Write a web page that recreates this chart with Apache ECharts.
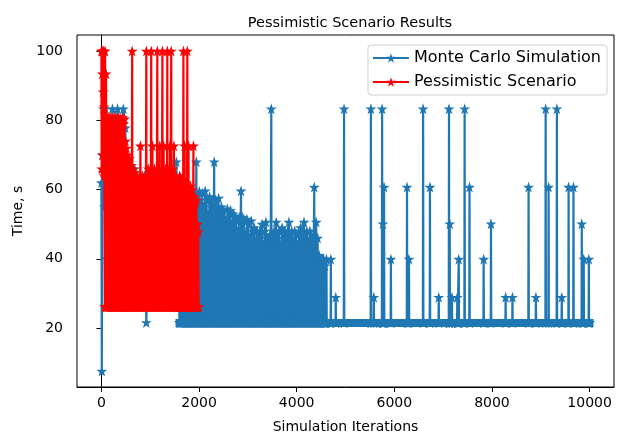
<!DOCTYPE html>
<html>
<head>
<meta charset="utf-8">
<script src="https://cdn.jsdelivr.net/npm/echarts@6/dist/echarts.min.js"></script>
<style>
  html, body { margin: 0; padding: 0; background: #fff; }
  #chart { width: 617px; height: 436px; }
</style>
</head>
<body>
<div id="chart"></div>
<script>
// axis ticks
const xTicks = [0, 2000, 4000, 6000, 8000, 10000]
const yTicks = [20, 40, 60, 80, 100]

// Monte Carlo Simulation: baseline level and [iteration, time] readings
const mcBase = 21.6
const mcEarly = [
  [0, 62], [8, 7.6], [20, 70], [40, 83.3], [60, 55], [80, 83.3], [110, 40], [150, 75],
  [190, 50], [225, 83.3], [260, 45], [300, 70], [330, 83.3], [370, 50], [410, 78],
  [450, 83.3], [490, 77.8], [530, 40], [570, 66], [620, 35], [680, 66], [740, 50],
  [780, 64], [830, 45], [880, 64], [920, 21.6], [960, 52], [1020, 40], [1080, 56],
  [1140, 35], [1200, 58], [1260, 40], [1320, 57], [1380, 45], [1440, 56], [1500, 40],
  [1535, 68], [1570, 45], [1600, 21.6],
]
const mcDense = [
  [1610, 55], [1640, 57], [1670, 52], [1700, 58], [1730, 56], [1760, 50], [1790, 58],
  [1820, 57], [1850, 54], [1880, 58], [1910, 55], [1945, 68], [1975, 57], [2005, 59.5],
  [2035, 56], [2065, 59], [2095, 55], [2125, 59.6], [2155, 57], [2185, 53], [2215, 58],
  [2245, 56], [2280, 57], [2310, 68], [2340, 57], [2370, 55], [2400, 57.5], [2430, 53],
  [2460, 55], [2490, 54], [2520, 52], [2550, 50], [2580, 54.4], [2610, 52], [2640, 54],
  [2670, 50], [2700, 53], [2730, 52.4], [2760, 51], [2790, 48], [2825, 52], [2860, 59.6],
  [2890, 52], [2920, 51.5], [2950, 47], [2980, 51.5], [3010, 50], [3040, 46], [3070, 51],
  [3100, 48], [3130, 49], [3160, 45], [3190, 48], [3220, 46], [3250, 48], [3290, 50],
  [3320, 44], [3345, 48], [3370, 50.6], [3400, 46], [3430, 44], [3455, 47], [3480, 83.3],
  [3510, 47], [3540, 48], [3580, 50.6], [3610, 46], [3640, 48], [3670, 44], [3700, 49],
  [3730, 47], [3760, 48], [3790, 46], [3815, 48], [3840, 50.6], [3870, 47], [3900, 48],
  [3930, 45], [3960, 48], [3990, 47], [4020, 44], [4050, 48], [4080, 49], [4115, 47],
  [4150, 50.6], [4180, 47], [4210, 48], [4240, 45], [4270, 48], [4300, 47], [4330, 46],
  [4360, 60.7], [4400, 50.6], [4430, 46], [4460, 41], [4490, 40], [4520, 39.9], [4550, 40],
  [4580, 38], [4610, 39.9],
]
const mcSparse = [
  [4700, 39.9], [4800, 28.9], [4970, 83.3], [5520, 83.3], [5580, 28.9], [5750, 83.3],
  [5765, 50.1], [5790, 60.7], [5930, 39.9], [6260, 60.7], [6300, 39.9], [6590, 83.3],
  [6730, 60.7], [6910, 28.9], [7120, 83.3], [7135, 50.1], [7180, 28.9], [7290, 28.9],
  [7320, 39.9], [7440, 83.3], [7540, 60.7], [7830, 39.9], [7980, 50.1], [8280, 28.9],
  [8420, 28.9], [8750, 60.7], [8900, 28.9], [9100, 83.3], [9160, 60.7], [9330, 83.3],
  [9430, 28.9], [9570, 60.7], [9670, 60.7], [9840, 50.1], [9880, 39.9], [9985, 39.9],
]

// Pessimistic Scenario: baseline level and [iteration, time] readings
const psBase = 26.2
const psStart = [
  [0, 100], [6, 66], [12, 100], [18, 93.4], [24, 70], [30, 100], [36, 88.2],
  [42, 65], [48, 100], [54, 83.9], [60, 64],
]
const psPeaks = [
  [75, 100], [95, 93.4], [115, 80.8], [135, 80.4], [155, 81], [175, 78], [195, 80.8],
  [215, 79], [235, 80.6], [255, 76], [275, 81], [295, 79], [315, 80.4], [335, 77],
  [355, 80.8], [375, 79], [395, 80.4], [415, 78], [435, 80.8], [455, 79], [475, 80.4],
  [495, 74], [515, 72], [535, 70], [555, 68], [575, 69], [595, 66], [615, 67],
  [630, 100], [650, 66], [670, 64], [690, 65], [710, 63], [730, 64], [750, 62],
  [770, 63], [800, 72.6], [820, 62], [840, 64], [860, 61], [880, 63], [900, 60],
  [920, 100], [940, 64], [960, 66], [980, 63], [1000, 65], [1020, 100], [1045, 72.6],
  [1065, 62], [1085, 66], [1105, 64], [1125, 63], [1145, 100], [1170, 66], [1195, 72.6],
  [1215, 62], [1230, 65], [1250, 100], [1275, 72.6], [1295, 64], [1315, 66], [1335, 62],
  [1350, 100], [1370, 63], [1390, 66], [1405, 72.6], [1430, 100], [1450, 64], [1470, 66],
  [1485, 72.6], [1505, 62], [1525, 64], [1545, 60], [1565, 63], [1585, 61], [1605, 64],
  [1625, 60], [1645, 62], [1665, 59], [1680, 100], [1705, 72.6], [1725, 62], [1745, 60],
  [1760, 100], [1785, 72.6], [1805, 60], [1825, 61], [1845, 58], [1865, 60], [1885, 72.6],
  [1905, 58], [1925, 56], [1945, 57], [1965, 50], [1985, 47.8],
]

// each reading sits between two baseline points, as the run returns to it
function withBase(list, base, half) {
  const out = []
  list.forEach(([it, t]) => {
    out.push([it - half, base], [it, t], [it + half, base])
  })
  return out
}

const mcData = mcEarly.concat(withBase(mcDense, mcBase, 6), withBase(mcSparse, mcBase, 5), [[9999, mcBase]])
const psData = psStart.concat(withBase(psPeaks, psBase, 5))

const star = 'path://M50,0 L61.2,34.5 L97.6,34.5 L68.2,55.9 L79.4,90.5 L50,69.1 L20.6,90.5 L31.8,55.9 L2.4,34.5 L38.8,34.5 Z'
const font = 'DejaVu Sans'
const chart = echarts.init(document.getElementById('chart'), null, { renderer: 'canvas' })
chart.setOption({
  animation: false,
  backgroundColor: '#fff',
  title: {
    text: 'Pessimistic Scenario Results',
    left: 345,
    textAlign: 'center',
    top: 11,
    textStyle: { fontFamily: font, fontSize: 14.5, fontWeight: 'normal', color: '#000' },
  },
  legend: {
    orient: 'vertical',
    right: 10,
    top: 45,
    z: 10,
    padding: [5, 6, 5, 4],
    itemGap: 8,
    itemWidth: 36,
    itemHeight: 12,
    backgroundColor: 'rgba(255,255,255,0.8)',
    borderColor: '#d0d0d0',
    borderWidth: 1,
    borderRadius: 3,
    textStyle: { fontFamily: font, fontSize: 16, color: '#000' },
    data: ['Monte Carlo Simulation', 'Pessimistic Scenario'],
  },
  grid: {
    left: 77,
    top: 35,
    right: 3,
    bottom: 49,
    outerBoundsMode: 'none',
    show: true,
    borderColor: '#000',
    borderWidth: 1,
  },
  xAxis: {
    type: 'value',
    min: -500,
    max: 10500,
    name: 'Simulation Iterations',
    nameLocation: 'middle',
    nameGap: 33,
    nameTextStyle: { fontFamily: font, fontSize: 14, color: '#000' },
    axisLine: { show: true, lineStyle: { color: '#000' } },
    axisTick: { show: true, length: 5, customValues: xTicks, lineStyle: { color: '#000' } },
    axisLabel: {
      customValues: xTicks,
      formatter: v => String(v),
      margin: 9,
      fontFamily: font,
      fontSize: 14,
      color: '#000',
    },
    splitLine: { show: false },
  },
  yAxis: {
    type: 'value',
    min: 3,
    max: 104.6,
    name: 'Time, s',
    nameLocation: 'middle',
    nameGap: 38,
    nameTextStyle: { fontFamily: font, fontSize: 14, color: '#000' },
    axisLine: { show: true, lineStyle: { color: '#000' } },
    axisTick: { show: true, length: 5, customValues: yTicks, lineStyle: { color: '#000' } },
    axisLabel: {
      customValues: yTicks,
      formatter: v => String(v),
      margin: 14,
      fontFamily: font,
      fontSize: 14,
      color: '#000',
    },
    splitLine: { show: false },
  },
  series: [
    {
      name: 'Monte Carlo Simulation',
      type: 'line',
      z: 2,
      data: mcData,
      symbol: star,
      symbolSize: 11,
      showAllSymbol: true,
      color: '#1f77b4',
      lineStyle: { width: 2.2, color: '#1f77b4' },
      itemStyle: { color: '#1f77b4' },
      markLine: {
        silent: true,
        symbol: ['none', 'none'],
        label: { show: false },
        lineStyle: { color: '#1f77b4', width: 8, type: 'solid', cap: 'square' },
        data: [[{ coord: [1600, mcBase] }, { coord: [9999, mcBase] }]],
      },
    },
    {
      name: 'Pessimistic Scenario',
      type: 'line',
      z: 3,
      data: psData,
      symbol: star,
      symbolSize: 11,
      showAllSymbol: true,
      color: '#ff0000',
      lineStyle: { width: 2.2, color: '#ff0000' },
      itemStyle: { color: '#ff0000' },
    },
  ],
})
</script>
</body>
</html>
